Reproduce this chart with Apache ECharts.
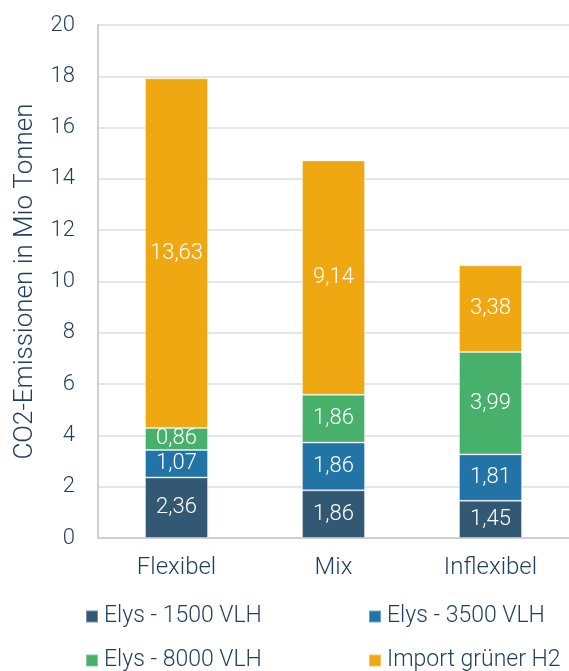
<!DOCTYPE html>
<html>
<head>
	<meta charset="utf-8">
	<title></title>
	<style>
		html, body { margin: 0; padding: 0; background: #fff; }
		#chart { width: 569px; height: 671px; }
	</style>
</head>
<body>
<div id="chart"></div>
<script src="https://cdn.jsdelivr.net/npm/echarts@6/dist/echarts.min.js"></script>
<script type="text/javascript">
	// Daten
	var categories = ['Flexibel', 'Mix', 'Inflexibel'];
	var elys1500 = [2.36, 1.86, 1.45];
	var elys3500 = [1.07, 1.86, 1.81];
	var elys8000 = [0.86, 1.86, 3.99];
	var importH2 = [13.63, 9.14, 3.38];
	var yTicks = [0, 20, 2]; // min, max, interval
	var legendLeft = ['Elys - 1500 VLH', 'Elys - 8000 VLH'];
	var legendRight = ['Elys - 3500 VLH', 'Import grüner H2'];

	var textColor = '#1f3d5c';
	var font = 'Roboto';

	function serie(name, data, color) {
		return {
			name: name,
			type: 'bar',
			stack: 'total',
			barWidth: 63,
			data: data,
			itemStyle: { color: color, borderColor: 'rgba(255,255,255,0.35)', borderWidth: 1 },
			label: {
				show: true,
				position: 'inside',
				color: '#fff',
				fontFamily: font,
				fontWeight: 300,
				fontSize: 22,
				formatter: function (p) { return p.value.toFixed(2).replace('.', ','); }
			}
		};
	}

	// zwei Spalten, jeweils vertikal
	function legende(left, data) {
		return {
			orient: 'vertical',
			left: left,
			top: 605,
			height: 80,
			padding: 0,
			data: data,
			itemWidth: 12,
			itemHeight: 12,
			itemGap: 21,
			icon: 'rect',
			textStyle: { color: textColor, fontFamily: font, fontWeight: 300, fontSize: 23, lineHeight: 22, padding: [0, 0, 0, 1] }
		};
	}

	var chart = echarts.init(document.getElementById('chart'), null, { renderer: 'canvas' });
	chart.setOption({
		animation: false,
		grid: { left: 98, right: 0, top: 25, bottom: 133 },
		legend: [legende(85, legendLeft), legende(368, legendRight)],
		xAxis: {
			type: 'category',
			data: categories,
			axisLine: { lineStyle: { color: '#d0d0d0', width: 2 } },
			axisTick: { show: false },
			axisLabel: { color: textColor, fontFamily: font, fontWeight: 300, fontSize: 24, margin: 18 }
		},
		yAxis: {
			type: 'value',
			min: yTicks[0],
			max: yTicks[1],
			interval: yTicks[2],
			name: 'CO2-Emissionen in Mio Tonnen',
			nameLocation: 'middle',
			nameGap: 60,
			nameTextStyle: { color: textColor, fontFamily: font, fontWeight: 300, fontSize: 26 },
			axisLine: { show: true, lineStyle: { color: '#d0d0d0', width: 2 } },
			axisTick: { show: false },
			splitLine: { lineStyle: { color: '#dcdcdc', width: 1.5 } },
			axisLabel: { color: textColor, fontFamily: font, fontWeight: 300, fontSize: 22, margin: 23 }
		},
		series: [
			serie('Elys - 1500 VLH', elys1500, '#335873'),
			serie('Elys - 3500 VLH', elys3500, '#2374a6'),
			serie('Elys - 8000 VLH', elys8000, '#47b06b'),
			serie('Import grüner H2', importH2, '#f0a812')
		]
	});
</script>
</body>
</html>
